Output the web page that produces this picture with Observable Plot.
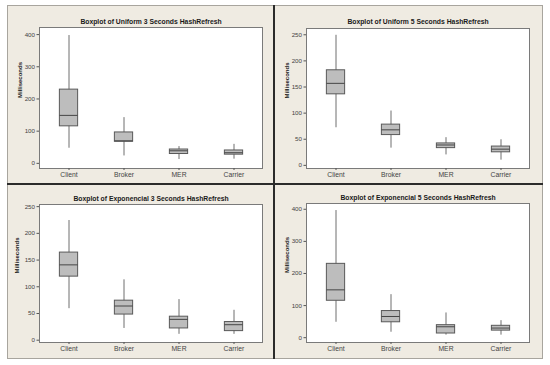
<!DOCTYPE html>
<html>
<head>
<meta charset="utf-8">
<script src="https://cdn.jsdelivr.net/npm/d3@7"></script>
<script src="https://cdn.jsdelivr.net/npm/@observablehq/plot@0.6"></script>
<style>
  html, body { margin: 0; padding: 0; background: #ffffff; }
  #root { position: relative; width: 550px; height: 365px; overflow: hidden; background: #ffffff; }
  #bg { position: absolute; left: 7px; top: 5px; width: 534px; height: 352px; background: #efebe2; border: 1px solid #a8a59e; }
  .vline { position: absolute; left: 273px; top: 5px; width: 1.5px; height: 354px; background: #2b2b2b; }
  .hline { position: absolute; left: 7px; top: 183px; width: 536px; height: 1.5px; background: #2b2b2b; }
  .panel { position: absolute; }
  .panel svg { background: transparent !important; }
</style>
</head>
<body>
<div id="root">
  <div id="bg"></div>
  <div class="vline"></div>
  <div class="hline"></div>
</div>
<script>
// ---- data ----
const categories = ["Client", "Broker", "MER", "Carrier"];
const titles = [
  "Boxplot of Uniform 3 Seconds HashRefresh",
  "Boxplot of Uniform 5 Seconds HashRefresh",
  "Boxplot of Exponencial 3 Seconds HashRefresh",
  "Boxplot of Exponencial 5 Seconds HashRefresh"
];
const yLabel = "Milliseconds";

// Uniform 3 Seconds
const uni3Low  = [47, 23, 12, 13];
const uni3Q1   = [115, 67, 29, 27];
const uni3Med  = [149, 70, 39, 33];
const uni3Q3   = [229, 96, 43, 40];
const uni3High = [397, 142, 52, 59];
const uni3Ticks = [0, 100, 200, 300, 400];

// Uniform 5 Seconds
const uni5Low  = [72, 33, 20, 10];
const uni5Q1   = [136, 58, 33, 25];
const uni5Med  = [157, 68, 39, 31];
const uni5Q3   = [182, 78, 42, 36];
const uni5High = [249, 104, 53, 49];
const uni5Ticks = [0, 50, 100, 150, 200, 250];

// Exponencial 3 Seconds
const exp3Low  = [59, 22, 11, 11];
const exp3Q1   = [119, 48, 22, 17];
const exp3Med  = [141, 64, 39, 29];
const exp3Q3   = [164, 74, 44, 34];
const exp3High = [224, 113, 76, 56];
const exp3Ticks = [0, 50, 100, 150, 200, 250];

// Exponencial 5 Seconds
const exp5Low  = [48, 17, 8, 8];
const exp5Q1   = [115, 48, 13, 22];
const exp5Med  = [149, 66, 34, 30];
const exp5Q3   = [230, 83, 39, 37];
const exp5High = [396, 134, 77, 53];
const exp5Ticks = [0, 100, 200, 300, 400];

function rows(low, q1, med, q3, high) {
  return categories.map((c, i) => ({cat: c, low: low[i], q1: q1[i], med: med[i], q3: q3[i], high: high[i]}));
}

const panels = [
  {title: titles[0], data: rows(uni3Low, uni3Q1, uni3Med, uni3Q3, uni3High), ticks: uni3Ticks, domain: [-16, 422],
   left: 7, top: 5, width: 267, height: 178, mt: 22, mb: 15, ml: 32, mr: 12, labelDx: -19, titleDy: -8},
  {title: titles[1], data: rows(uni5Low, uni5Q1, uni5Med, uni5Q3, uni5High), ticks: uni5Ticks, domain: [-6, 262],
   left: 274, top: 5, width: 268, height: 178, mt: 23, mb: 15, ml: 32, mr: 13, labelDx: -19, titleDy: -9},
  {title: titles[2], data: rows(exp3Low, exp3Q1, exp3Med, exp3Q3, exp3High), ticks: exp3Ticks, domain: [-4.3, 254],
   left: 7, top: 183, width: 267, height: 175, mt: 21, mb: 16, ml: 32, mr: 12, labelDx: -22, titleDy: -8},
  {title: titles[3], data: rows(exp5Low, exp5Q1, exp5Med, exp5Q3, exp5High), ticks: exp5Ticks, domain: [-15, 418],
   left: 274, top: 183, width: 268, height: 175, mt: 20, mb: 16, ml: 32, mr: 13, labelDx: -19, titleDy: -8}
];

const root = document.getElementById("root");
for (const p of panels) {
  const bandW = (p.width - p.ml - p.mr) / categories.length;
  const boxW = 19;
  const inset = (bandW - boxW) / 2;
  const chart = Plot.plot({
    width: p.width,
    height: p.height,
    marginTop: p.mt,
    marginBottom: p.mb,
    marginLeft: p.ml,
    marginRight: p.mr,
    style: {fontFamily: "Liberation Sans, Arial, sans-serif", fontSize: "6px", background: "transparent", color: "#333"},
    x: {type: "band", domain: categories, padding: 0, label: null, tickSize: 2, tickPadding: 2},
    y: {domain: p.domain, ticks: p.ticks, label: null, tickSize: 2.5, tickPadding: 2},
    marks: [
      Plot.frame({fill: "#ffffff", stroke: "#7a7a7a", strokeWidth: 1}),
      Plot.ruleX(p.data, {x: "cat", y1: "low", y2: "high", stroke: "#6e6e6e", strokeWidth: 1}),
      Plot.barY(p.data, {x: "cat", y1: "q1", y2: "q3", fill: "#bdbdbd", stroke: "#595959", strokeWidth: 1,
                         insetLeft: inset, insetRight: inset}),
      Plot.tickY(p.data, {x: "cat", y: "med", stroke: "#454545", strokeWidth: 1, insetLeft: inset, insetRight: inset}),
      Plot.axisY({ticks: p.ticks, tickSize: 2.5, tickPadding: 2, label: null, fill: "#444", stroke: "#555", fontSize: 6.2}),
      Plot.axisX({tickSize: 2, tickPadding: 2, label: null, fill: "#444", stroke: "#555", fontSize: 6.8}),
      Plot.text([p.title], {frameAnchor: "top", dy: p.titleDy, text: d => d, fontWeight: "bold", fontSize: 6.8, fill: "#1a1a1a"}),
      Plot.text([yLabel], {frameAnchor: "left", dx: p.labelDx, rotate: -90, text: d => d, fontWeight: "bold", fontSize: 6, fill: "#1a1a1a"})
    ]
  });
  const div = document.createElement("div");
  div.className = "panel";
  div.style.left = p.left + "px";
  div.style.top = p.top + "px";
  div.appendChild(chart);
  root.appendChild(div);
}
</script>
</body>
</html>
